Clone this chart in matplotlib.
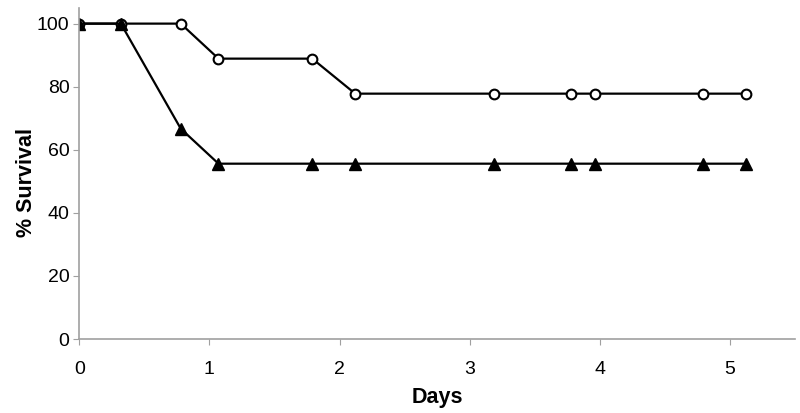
import matplotlib
matplotlib.use("Agg")
import matplotlib.pyplot as plt

plt.rcParams['font.family'] = ['Liberation Sans', 'DejaVu Sans']

days = [0, 0.32, 0.78, 1.07, 1.79, 2.12, 3.19, 3.78, 3.96, 4.79, 5.12]
survival_open = [100, 100, 100, 88.9, 88.9, 77.8, 77.8, 77.8, 77.8, 77.8, 77.8]
survival_filled = [100, 100, 66.7, 55.6, 55.6, 55.6, 55.6, 55.6, 55.6, 55.6, 55.6]

fig = plt.figure(figsize=(8, 4.13), dpi=100)
ax = fig.add_axes([0.099, 0.179, 0.895, 0.802])

ax.plot(days, survival_open, color='black', lw=1.6, marker='o', ms=7,
        mfc='white', mec='black', mew=1.5)
ax.plot(days, survival_filled, color='black', lw=1.6, marker='^', ms=8,
        mfc='black', mec='black')

ax.set_xlim(0, 5.5)
ax.set_ylim(0, 105)
ax.set_xticks([0, 1, 2, 3, 4, 5])
ax.set_yticks([0, 20, 40, 60, 80, 100])

for s in ['top', 'right']:
    ax.spines[s].set_visible(False)
for s in ['left', 'bottom']:
    ax.spines[s].set_color('#a0a0a0')
    ax.spines[s].set_linewidth(1.2)
ax.tick_params(colors='#a0a0a0', labelcolor='black', labelsize=14, length=4)
ax.tick_params(axis='x', pad=12)
ax.tick_params(axis='y', pad=3)

ax.set_xlabel('Days', fontsize=15.5, fontweight='bold', labelpad=6)
ax.set_ylabel('% Survival', fontsize=15.5, fontweight='bold', labelpad=0)
ax.yaxis.label.set_y(0.474)

fig.savefig('out.png')
